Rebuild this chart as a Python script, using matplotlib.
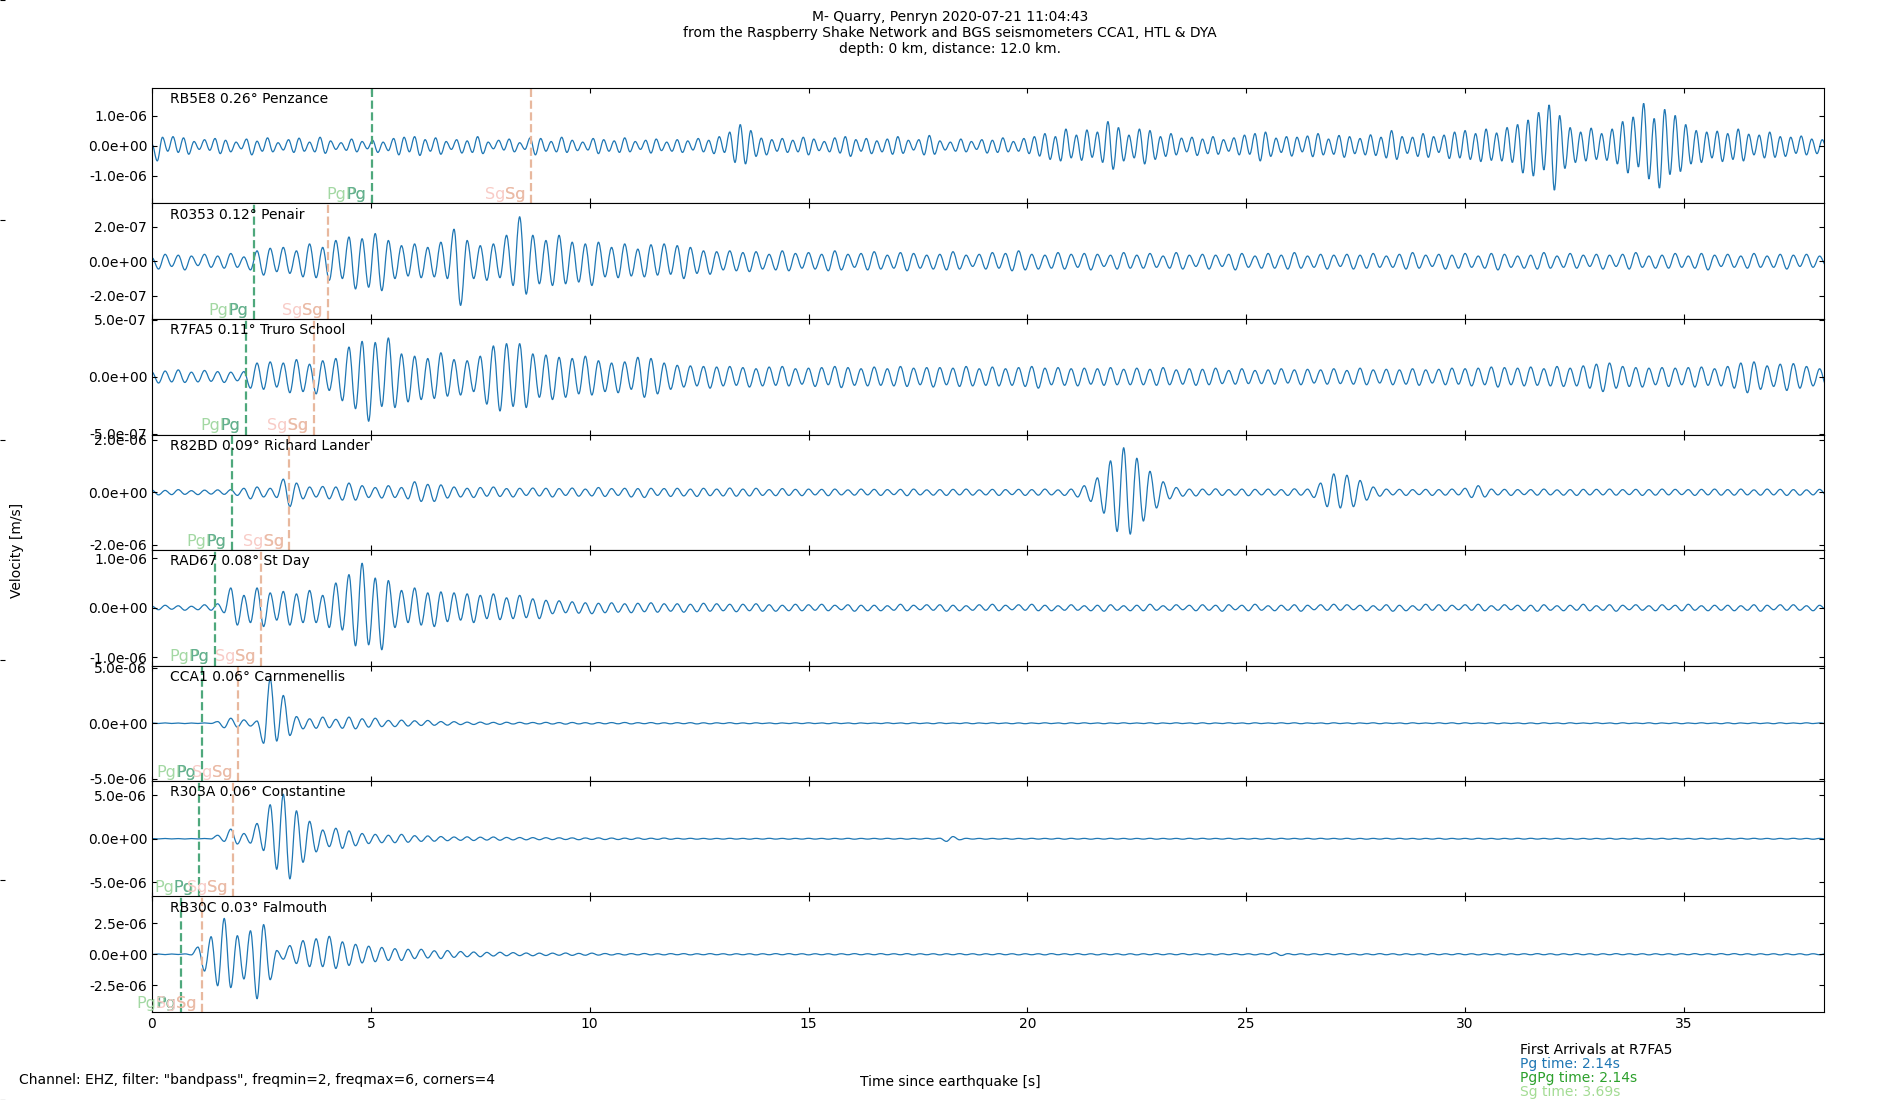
import numpy as np
import matplotlib
matplotlib.use("Agg")
import matplotlib.pyplot as plt
import matplotlib.transforms as mtransforms
from matplotlib.path import Path
from matplotlib.patches import PathPatch
from matplotlib.ticker import MultipleLocator, FormatStrFormatter

# ---------------- data ----------------
STATIONS = ["RB5E8 0.26° Penzance", "R0353 0.12° Penair", "R7FA5 0.11° Truro School",
            "R82BD 0.09° Richard Lander", "RAD67 0.08° St Day", "CCA1 0.06° Carnmenellis",
            "R303A 0.06° Constantine", "RB30C 0.03° Falmouth"]
PG_TIMES = [5.02, 2.33, 2.14, 1.83, 1.44, 1.14, 1.08, 0.67]
SG_TIMES = [8.66, 4.02, 3.69, 3.14, 2.49, 1.97, 1.86, 1.15]
# spacing (s) between successive extrema of each trace, and unit (m/s) of the values
HALF_PERIOD = [0.12, 0.15, 0.15, 0.15, 0.15, 0.15, 0.15, 0.15]
UNITS = [1e-8, 1e-9, 1e-9, 1e-8, 1e-8, 1e-8, 1e-8, 1e-8]

TRACE_RB5E8 = [
    5, -50, 28, -18, 30, -22, 26, -28, 14, -12,
    20, -15, 24, -26, 18, -20, 12, -10, 22, -30,
    15, -18, 26, -20, 10, -14, 20, -22, 25, -18,
    12, -20, 28, -25, 16, -12, 10, -15, 22, -20,
    14, -10, 18, -22, 12, -16, 24, -30, 28, -20,
    30, -32, 20, -18, 26, -28, 14, -12, 20, -24,
    16, -22, 30, -26, 12, -10, 18, -14, 22, -20,
    10, -12, 26, -30, 24, -18, 14, -20, 28, -22,
    18, -16, 12, -14, 24, -26, 20, -18, 16, -22,
    26, -20, 14, -12, 18, -24, 22, -16, 12, -18,
    20, -22, 16, -14, 24, -20, 18, -26, 30, -22,
    45, -55, 70, -60, 50, -35, 25, -30, 20, -18,
    24, -22, 18, -20, 28, -30, 22, -16, 14, -20,
    26, -24, 30, -35, 20, -18, 24, -26, 16, -20,
    22, -28, 30, -25, 18, -14, 20, -30, 34, -28,
    16, -14, 12, -18, 22, -20, 14, -12, 20, -24,
    18, -22, 26, -20, 14, -18, 24, -26, 30, -34,
    40, -45, 30, -50, 55, -40, 35, -48, 52, -38,
    45, -55, 80, -78, 60, -50, 35, -40, 55, -60,
    50, -45, 30, -35, 40, -30, 25, -20, 28, -32,
    22, -26, 30, -28, 20, -18, 26, -30, 35, -28,
    40, -50, 45, -35, 25, -22, 30, -34, 28, -20,
    32, -36, 40, -30, 22, -28, 34, -38, 30, -26,
    24, -30, 36, -32, 28, -40, 50, -45, 30, -25,
    28, -35, 40, -38, 30, -22, 35, -42, 45, -40,
    50, -45, 40, -52, 55, -48, 42, -50, 60, -55,
    70, -90, 85, -100, 110, -80, 135, -147, 100, -75,
    60, -55, 45, -50, 58, -45, 40, -48, 55, -60,
    80, -90, 95, -70, 140, -110, 90, -140, 120, -95,
    100, -85, 70, -60, 50, -55, 45, -40, 48, -52,
    40, -45, 55, -50, 38, -30, 35, -40, 45, -38,
    30, -35, 28, -25, 32, -30, 22, -26, 20, -18,
]

TRACE_R0353 = [
    20, -45, 40, -30, 35, -50, 30, -25, 40, -35,
    30, -40, 45, -35, 25, -50, 60, -80, 75, -60,
    80, -70, 60, -90, 100, -95, 80, -110, 120, -100,
    140, -160, 130, -150, 160, -170, 120, -100, 90, -85,
    100, -95, 80, -90, 110, -100, 185, -255, 120, -100,
    90, -110, 100, -95, 150, -140, 257, -190, 150, -130,
    120, -140, 150, -130, 110, -120, 100, -140, 110, -90,
    80, -95, 100, -85, 70, -90, 95, -80, 100, -75,
    90, -100, 80, -70, 60, -75, 55, -50, 60, -55,
    50, -60, 55, -45, 40, -50, 60, -55, 45, -40,
    50, -45, 40, -55, 60, -50, 40, -35, 45, -50,
    55, -45, 35, -40, 50, -55, 45, -40, 35, -45,
    40, -50, 55, -45, 35, -30, 40, -45, 50, -40,
    45, -55, 60, -50, 40, -45, 35, -40, 50, -45,
    40, -35, 45, -50, 40, -30, 35, -45, 50, -40,
    35, -40, 45, -35, 30, -40, 50, -45, 35, -30,
    40, -45, 35, -30, 40, -50, 45, -35, 30, -40,
    45, -40, 35, -45, 50, -40, 30, -35, 40, -45,
    35, -30, 40, -45, 35, -40, 45, -35, 30, -35,
    40, -45, 50, -40, 35, -30, 40, -45, 35, -40,
    45, -35, 30, -40, 45, -50, 40, -35, 30, -40,
    35, -45, 50, -40, 30, -35, 45, -40, 35, -30,
    40, -45, 35, -30, 40, -45, 50, -35, 30, -40,
    35, -40, 45, -35, 30, -40, 45, -50, 35, -30,
    40, -35, 30, -40, 45, -35, 30, -35, 40, -45,
    35, -30, 40, -35, 30, -25,
]

TRACE_R7FA5 = [
    40, -55, 50, -45, 60, -50, 40, -45, 55, -40,
    45, -50, 40, -35, 45, -100, 120, -110, 130, -90,
    120, -140, 150, -130, 110, -150, 140, -120, 160, -210,
    260, -280, 310, -390, 300, -260, 340, -270, 200, -220,
    180, -200, 160, -190, 210, -170, 150, -160, 140, -130,
    180, -240, 270, -300, 290, -260, 290, -270, 200, -180,
    190, -200, 170, -180, 160, -150, 180, -160, 140, -130,
    120, -140, 130, -110, 170, -180, 160, -150, 120, -110,
    100, -90, 95, -80, 90, -100, 85, -80, 90, -75,
    80, -90, 70, -80, 85, -75, 90, -80, 70, -65,
    75, -85, 80, -70, 90, -95, 80, -75, 70, -80,
    85, -75, 70, -80, 90, -85, 75, -70, 80, -90,
    80, -70, 75, -85, 90, -80, 70, -75, 85, -80,
    70, -75, 80, -85, 90, -100, 75, -70, 80, -75,
    70, -80, 75, -65, 70, -75, 80, -70, 65, -70,
    75, -70, 65, -75, 80, -70, 60, -65, 70, -75,
    65, -70, 75, -60, 55, -65, 70, -60, 55, -60,
    60, -65, 70, -55, 60, -70, 65, -55, 60, -65,
    70, -60, 55, -65, 75, -70, 60, -55, 65, -70,
    60, -65, 70, -75, 60, -55, 65, -70, 75, -65,
    70, -80, 75, -70, 85, -90, 80, -70, 75, -80,
    85, -75, 70, -80, 90, -85, 75, -80, 95, -100,
    110, -130, 120, -100, 90, -85, 80, -90, 75, -70,
    80, -85, 75, -70, 80, -90, 85, -75, 70, -80,
    90, -100, 120, -140, 130, -110, 95, -85, 110, -120,
    115, -100, 90, -80, 70, -75,
]

TRACE_R82BD = [
    8, -10, 7, -9, 10, -8, 6, -9, 8, -7,
    9, -8, 10, -12, 15, -25, 20, -18, 15, -20,
    50, -55, 35, -25, 20, -18, 22, -25, 20, -30,
    35, -30, 25, -20, 18, -22, 25, -20, 18, -25,
    40, -35, 30, -35, 28, -22, 20, -18, 15, -20,
    18, -15, 20, -16, 14, -18, 15, -12, 16, -14,
    15, -18, 14, -12, 16, -15, 12, -14, 18, -16,
    14, -12, 15, -18, 14, -20, 15, -12, 14, -16,
    15, -14, 12, -16, 15, -13, 12, -14, 16, -15,
    12, -14, 15, -12, 10, -13, 14, -12, 11, -13,
    12, -10, 11, -13, 12, -10, 9, -11, 12, -10,
    11, -12, 10, -9, 11, -13, 12, -10, 9, -11,
    10, -12, 11, -10, 12, -11, 9, -10, 11, -12,
    10, -9, 11, -12, 10, -11, 12, -10, 9, -12,
    12, -18, 25, -35, 55, -80, 120, -150, 170, -160,
    130, -110, 80, -60, 40, -25, 18, -15, 12, -14,
    12, -10, 13, -12, 10, -11, 12, -13, 11, -10,
    12, -11, 10, -12, 13, -11, 12, -20, 35, -55,
    70, -60, 65, -55, 45, -30, 20, -15, 12, -10,
    11, -12, 10, -9, 11, -12, 10, -11, 12, -10,
    15, -20, 25, -18, 12, -10, 11, -12, 10, -9,
    10, -11, 12, -10, 9, -11, 10, -12, 11, -10,
    11, -10, 12, -11, 10, -9, 11, -12, 10, -11,
    12, -10, 11, -9, 10, -12, 11, -10, 12, -11,
    10, -11, 12, -10, 9, -11, 12, -10, 11, -12,
    10, -11, 9, -10, 11, -10,
]

TRACE_RAD67 = [
    3, -4, 5, -3, 4, -5, 3, -4, 6, -5,
    8, -10, 40, -35, 25, -30, 40, -38, 30, -25,
    33, -35, 28, -30, 35, -30, 25, -40, 50, -45,
    67, -77, 90, -75, 60, -85, 55, -40, 35, -30,
    40, -35, 30, -38, 32, -28, 30, -25, 28, -30,
    25, -22, 28, -24, 20, -22, 25, -20, 18, -22,
    15, -12, 14, -10, 12, -11, 10, -12, 9, -10,
    10, -9, 8, -10, 9, -8, 10, -9, 8, -7,
    8, -9, 7, -8, 9, -7, 8, -6, 7, -8,
    7, -6, 8, -7, 6, -7, 5, -6, 7, -6,
    6, -5, 7, -6, 5, -4, 6, -7, 5, -6,
    5, -6, 4, -5, 7, -6, 5, -4, 6, -5,
    6, -7, 5, -6, 4, -5, 6, -5, 7, -6,
    5, -4, 6, -5, 7, -6, 5, -6, 4, -5,
    6, -5, 4, -6, 5, -7, 6, -5, 4, -6,
    5, -6, 7, -5, 4, -5, 6, -4, 5, -6,
    6, -5, 5, -7, 6, -4, 5, -6, 7, -5,
    4, -6, 5, -5, 6, -7, 5, -4, 6, -5,
    7, -5, 6, -4, 5, -6, 4, -5, 6, -7,
    5, -6, 4, -5, 7, -5, 6, -6, 5, -4,
    6, -5, 7, -6, 4, -5, 6, -4, 5, -6,
    5, -7, 6, -5, 4, -6, 5, -5, 7, -6,
    4, -5, 6, -7, 5, -4, 6, -5, 4, -6,
    6, -4, 5, -6, 7, -5, 4, -6, 5, -5,
    5, -6, 4, -5, 6, -7, 5, -4, 6, -5,
    6, -5, 4, -6, 5, -4,
]

TRACE_CCA1 = [
    2, -2, 3, -2, 2, -3, 2, -2, 3, -2,
    15, -40, 45, -35, 30, -25, 20, -180, 400, -160,
    250, -110, 60, -50, 40, -45, 55, -40, 35, -45,
    55, -50, 40, -35, 45, -30, 25, -30, 28, -25,
    22, -20, 25, -18, 15, -17, 14, -12, 10, -11,
    10, -9, 8, -10, 9, -7, 8, -6, 7, -6,
    8, -7, 6, -8, 7, -6, 5, -7, 6, -5,
    6, -5, 7, -6, 5, -4, 6, -5, 4, -5,
    5, -4, 5, -6, 4, -5, 4, -3, 5, -4,
    3, -4, 4, -3, 3, -4, 3, -3, 4, -3,
    4, -3, 3, -4, 4, -3, 3, -4, 3, -3,
    3, -3, 4, -3, 3, -4, 4, -3, 3, -4,
    4, -3, 3, -3, 4, -4, 3, -3, 4, -3,
    3, -4, 3, -4, 3, -3, 4, -3, 3, -4,
    4, -3, 4, -3, 3, -4, 3, -3, 4, -3,
    3, -3, 4, -4, 3, -3, 4, -3, 3, -4,
    4, -4, 3, -3, 4, -3, 3, -4, 4, -3,
    3, -3, 4, -3, 4, -4, 3, -3, 3, -4,
    4, -3, 3, -4, 3, -3, 4, -4, 3, -3,
    3, -4, 4, -3, 3, -3, 4, -3, 4, -4,
    4, -3, 3, -3, 4, -4, 3, -3, 3, -4,
    3, -4, 4, -3, 3, -4, 4, -3, 3, -3,
    4, -3, 3, -4, 4, -3, 3, -3, 4, -4,
    3, -3, 4, -4, 3, -3, 4, -3, 3, -4,
    4, -4, 3, -3, 4, -3, 3, -4, 4, -3,
    3, -3, 4, -3, 3, -4,
]

TRACE_R303A = [
    2, -2, 3, -2, 2, -3, 2, -2, 3, -2,
    40, -30, 110, -60, 60, -50, 175, -135, 390, -350,
    510, -460, 320, -270, 200, -150, 100, -90, 120, -110,
    90, -80, 60, -55, 50, -45, 40, -45, 50, -40,
    35, -30, 32, -28, 25, -22, 20, -18, 22, -20,
    18, -15, 20, -17, 15, -13, 14, -12, 13, -11,
    12, -10, 11, -9, 10, -11, 9, -8, 10, -9,
    8, -9, 7, -8, 9, -7, 6, -7, 8, -6,
    5, -4, 5, -5, 4, -5, 4, -4, 5, -4,
    4, -5, 4, -4, 5, -4, 4, -5, 4, -4,
    5, -4, 4, -5, 4, -4, 5, -5, 4, -4,
    4, -4, 5, -4, 4, -5, 4, -4, 5, -4,
    6, -30, 25, -12, 5, -4, 4, -5, 4, -4,
    4, -5, 4, -4, 5, -4, 4, -4, 5, -5,
    5, -4, 4, -5, 4, -4, 5, -4, 4, -5,
    4, -4, 5, -5, 4, -4, 4, -5, 5, -4,
    5, -4, 4, -4, 5, -5, 4, -4, 4, -5,
    4, -5, 5, -4, 4, -4, 5, -4, 5, -4,
    4, -4, 5, -5, 4, -5, 4, -4, 5, -4,
    5, -4, 4, -5, 4, -4, 5, -5, 4, -4,
    4, -5, 5, -4, 4, -5, 4, -4, 5, -4,
    5, -4, 4, -4, 5, -4, 4, -5, 4, -5,
    4, -4, 5, -5, 4, -4, 5, -4, 4, -4,
    5, -5, 4, -4, 4, -5, 5, -4, 4, -5,
    4, -4, 5, -4, 5, -4, 4, -5, 4, -4,
    5, -4, 4, -5, 4, -4,
]

TRACE_RB30C = [
    -2, 2, -3, 2, -2, 3, -5, 58, -136, 142,
    -255, 290, -270, 150, -200, 190, -360, 240, -206, 30,
    -40, 70, -75, 110, -100, 125, -100, 145, -115, 100,
    -90, 80, -70, 65, -60, 55, -50, 45, -50, 40,
    -35, 40, -30, 28, -35, 30, -25, 22, -20, 18,
    -20, 15, -14, 16, -12, 13, -11, 10, -12, 9,
    -10, 9, -8, 10, -9, 7, -8, 9, -7, 6,
    -6, 5, -6, 5, -5, 6, -5, 4, -5, 5,
    -4, 5, -5, 4, -4, 5, -4, 4, -5, 4,
    -4, 4, -5, 4, -4, 5, -4, 5, -4, 4,
    -5, 4, -4, 4, -5, 4, -4, 5, -4, 4,
    -4, 5, -4, 4, -4, 5, -5, 4, -4, 4,
    -5, 4, -4, 5, -4, 4, -5, 4, -4, 5,
    -4, 4, -5, 4, -4, 4, -5, 5, -4, 4,
    -4, 5, -4, 4, -5, 4, -4, 4, -5, 4,
    -5, 4, -4, 5, -4, 4, -4, 5, -4, 4,
    -4, 4, -5, 4, -4, 5, -4, 4, -5, 4,
    -4, 12, -10, 5, -4, 4, -5, 4, -4, 5,
    -4, 5, -4, 4, -5, 4, -4, 5, -4, 4,
    -5, 4, -4, 4, -5, 5, -4, 4, -4, 5,
    -4, 4, -5, 4, -4, 4, -5, 4, -4, 4,
    -4, 5, -4, 4, -5, 4, -4, 5, -4, 4,
    -5, 4, -4, 5, -4, 4, -4, 4, -5, 4,
    -4, 4, -5, 4, -4, 5, -4, 4, -4, 5,
    -4, 5, -4, 4, -5, 4, -4, 4, -5, 4,
    -4, 4, -5, 4, -4, 4,
]

TRACES = [TRACE_RB5E8, TRACE_R0353, TRACE_R7FA5, TRACE_R82BD,
          TRACE_RAD67, TRACE_CCA1, TRACE_R303A, TRACE_RB30C]

TITLE = ("M- Quarry, Penryn 2020-07-21 11:04:43\n"
         "from the Raspberry Shake Network and BGS seismometers CCA1, HTL & DYA\n"
         "depth: 0 km, distance: 12.0 km.")
ARRIVAL_LINES = ["First Arrivals at R7FA5", "Pg time: 2.14s", "PgPg time: 2.14s", "Sg time: 3.69s"]
ARRIVAL_COLORS = ["black", "#1f77b4", "#2ca02c", "#a3dc93"]
X_MAX = 38.2

# ---------------- style ----------------
TRACE_COLOR = "#1f77b4"
PG_LINE = "#4ea87c"
SG_LINE = "#e8b89e"
PG_LIGHT, PG_DARK = "#a3d8a3", "#62ae90"
SG_LIGHT, SG_DARK = "#f8cbc6", "#e9bba4"

plt.rcParams["font.family"] = ["DejaVu Sans"]
plt.rcParams["font.size"] = 10

fig = plt.figure(figsize=(19, 11), dpi=100)

bg = fig.add_axes([0, 0, 1, 1], frameon=False, zorder=-5)
bg.set_xticks([])
bg.tick_params(axis="y", direction="in", labelleft=False)

axes = fig.subplots(len(TRACES), 1, sharex=True)
fig.subplots_adjust(left=0.08, right=0.96, top=0.92, bottom=0.08, hspace=0)


def wave_path(t, y):
    """Smooth path through successive extrema (horizontal tangent at each extremum)."""
    verts = [(t[0], y[0])]
    codes = [Path.MOVETO]
    for i in range(1, len(t)):
        d = t[i] - t[i - 1]
        verts += [(t[i - 1] + 0.364 * d, y[i - 1]), (t[i] - 0.364 * d, y[i]), (t[i], y[i])]
        codes += [Path.CURVE4] * 3
    return Path(verts, codes)


for k, ax in enumerate(axes):
    y = np.asarray(TRACES[k], dtype=float) * UNITS[k]
    t = np.arange(len(y)) * HALF_PERIOD[k]
    ax.add_patch(PathPatch(wave_path(t, y), facecolor="none",
                           edgecolor=TRACE_COLOR, lw=0.9))
    lim = 1.3 * np.abs(y).max()
    ax.set_ylim(-lim, lim)
    ax.set_xlim(0, X_MAX)
    ax.axvline(PG_TIMES[k], color=PG_LINE, ls="--", lw=1.6)
    ax.axvline(SG_TIMES[k], color=SG_LINE, ls="--", lw=1.6)
    trans = mtransforms.blended_transform_factory(ax.transData, ax.transAxes)
    for txt, col, tt in [("PgPg", PG_LIGHT, PG_TIMES[k]), ("Pg", PG_DARK, PG_TIMES[k]),
                         ("SgSg", SG_LIGHT, SG_TIMES[k]), ("Sg", SG_DARK, SG_TIMES[k])]:
        ax.annotate(txt, xy=(tt, 0), xycoords=trans, xytext=(-4, 1),
                    textcoords="offset points", ha="right", va="bottom",
                    color=col, fontsize=11.5, annotation_clip=False, zorder=5)
    ax.text(0.0108, 0.965, STATIONS[k], transform=ax.transAxes,
            ha="left", va="top", fontsize=10)
    ax.yaxis.set_major_formatter(FormatStrFormatter("%.1e"))
    ax.xaxis.set_major_locator(MultipleLocator(5))
    ax.tick_params(direction="in", top=True, right=True, labelsize=10)

fig.suptitle(TITLE, x=0.5, y=0.991, va="top", fontsize=10)
fig.text(0.0092, 0.5, "Velocity [m/s]", rotation=90, ha="center", va="center", fontsize=10)
fig.text(0.5, 0.0164, "Time since earthquake [s]", ha="center", va="center", fontsize=10)
fig.text(0.01, 0.018, 'Channel: EHZ, filter: "bandpass", freqmin=2, freqmax=6, corners=4',
         ha="left", va="center", fontsize=10)
for j, (line, col) in enumerate(zip(ARRIVAL_LINES, ARRIVAL_COLORS)):
    fig.text(0.8, 0.0455 - j * 0.0127, line, color=col, ha="left", va="center", fontsize=10)

fig.savefig("out.png", dpi=100)
